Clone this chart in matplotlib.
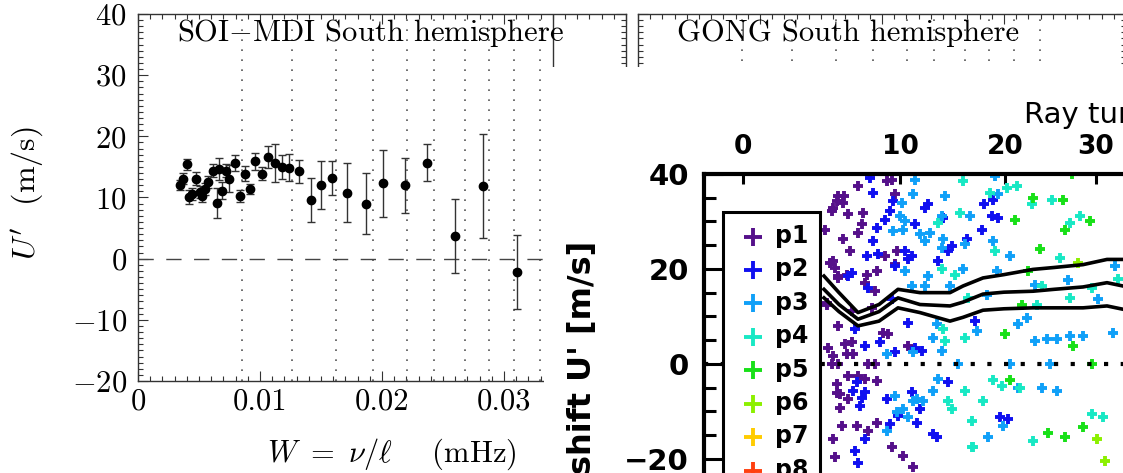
import numpy as np
import matplotlib
matplotlib.use('Agg')
import matplotlib.pyplot as plt
from matplotlib.patches import Rectangle
from matplotlib.ticker import MultipleLocator

plt.rcParams['font.family'] = ['cmr10', 'DejaVu Serif']
plt.rcParams['mathtext.fontset'] = 'cm'
plt.rcParams['axes.formatter.use_mathtext'] = True

# SOI-MDI south hemisphere: U' against W = nu/l
w_mdi = [0.00344, 0.00366, 0.00399, 0.00421, 0.00440, 0.00473, 0.00508, 0.00522, 0.00549, 0.00576,
         0.00612, 0.00645, 0.00667, 0.00686, 0.00721, 0.00749, 0.00795, 0.00836, 0.00877, 0.00918,
         0.00959, 0.01014, 0.01063, 0.01123, 0.01178, 0.01238, 0.01322, 0.01415, 0.01497, 0.01593,
         0.01716, 0.01866, 0.02011, 0.02188, 0.02366, 0.02598, 0.02831, 0.03109, 0.03400]
u_mdi = [12.0, 13.1, 15.4, 10.1, 10.6, 13.1, 10.9, 10.3, 11.4, 12.5,
         14.4, 9.1, 14.7, 11.1, 14.4, 13.1, 15.7, 10.2, 13.9, 11.4,
         15.9, 13.9, 16.7, 15.6, 15.0, 14.9, 14.3, 9.6, 12.0, 13.2,
         10.8, 9.0, 12.3, 12.0, 15.7, 3.7, 11.8, -2.2, 26.0]
e_mdi = [0.8, 0.9, 0.9, 1.1, 1.0, 1.0, 1.0, 1.0, 1.0, 1.0,
         1.0, 2.4, 1.8, 1.4, 1.1, 2.2, 1.3, 1.0, 1.2, 0.8,
         1.4, 1.1, 1.8, 3.1, 1.9, 2.2, 1.9, 3.6, 3.9, 2.8,
         4.8, 5.0, 5.5, 4.5, 3.0, 6.1, 8.5, 6.0, 17.0]

# W bin edges (dotted lines), same for both panels
w_bins = [0.00852, 0.01262, 0.01623, 0.01926, 0.02205, 0.02426, 0.02680, 0.02877, 0.03082, 0.03295]

# overlay: shift U' for each radial order
p1_x = [15.4, 19.1, 18.3, 18.8, 13.4, 13.9, 12.9, 14.4, 15.9, 12.1, 15.8, 15.4, 13.9, 14.6, 12.6, 13.1,
        13.4, 16.3, 18.1, 19.1, 17.3, 16.1, 17.1, 19.3, 12.3, 14.8, 16.8,
        13.4, 12.4, 12.9, 14.1, 14.8, 14.3, 14.9, 17.9, 18.4, 20.4, 12.8, 13.4, 16.4, 17.1, 14.4,
        15.4, 16.1, 17.3, 13.3, 13.6, 14.4, 13.8, 15.3, 16.4, 17.3, 12.9, 13.1, 18.8, 19.9, 20.9,
        12.3, 13.3, 13.6, 12.9, 13.4, 14.3, 12.8, 13.3, 14.0]
p1_y = [37.4, 35.7, 38.5, 38.8, 35.3, 33.9, 32.9, 31.6, 31.8, 28.3, 29.4, 27.6, 26.2, 23.8, 21.3, 20.2,
        18.5, 18.8, 22.7, 21.0, 19.5, 17.1, 15.3, 23.8, 12.5, 11.1, 11.8,
        8.0, 3.4, 1.7, 4.1, 4.5, 2.0, 2.0, 6.6, 6.2, 3.8, 0.0, 0.0, 0.0, 0.0, -2.5,
        -2.5, -3.2, -3.6, -4.3, -6.4, -7.4, -13.0, -13.0, -14.1, -12.4, -15.9, -19.7, -17.6, -19.4, -21.8,
        12.9, -6.1, -9.2, 21.6, 18.1, 18.8, 32.2, 34.3, 35.3]

p2_x = [16.6, 16.9, 18.9, 18.6, 18.1, 17.3, 16.9, 16.3, 17.4, 14.4, 14.8, 19.1, 20.4, 20.8, 20.1, 21.1,
        22.1, 22.4, 24.8, 24.4, 23.4, 26.3, 16.4, 18.8, 23.9,
        15.1, 16.1, 17.6, 19.1, 21.1, 21.8, 20.4, 15.3, 14.9, 15.8, 16.1, 15.6, 18.3, 20.8, 21.6,
        19.4, 21.3, 18.6, 16.1, 15.1, 15.4, 22.9, 23.3, 24.4,
        28.0, 28.9, 28.8, 29.4, 27.8, 27.1, 29.6, 30.4]
p2_y = [39.2, 36.0, 34.3, 32.2, 30.4, 28.7, 25.9, 22.7, 23.1, 18.5, 19.2, 20.6, 22.0, 22.7, 23.8, 29.4,
        32.9, 33.6, 24.8, 23.8, 21.7, 26.2, 16.0, 13.6, 30.8,
        7.3, 3.8, 4.5, 2.4, 3.4, 2.7, 8.7, -3.9, -5.7, -7.1, -6.0, -8.8, -7.4, -6.0, -9.5,
        -10.9, -12.4, -12.7, -15.9, -18.3, -20.8, -14.8, -15.5, -3.9,
        33.6, 34.6, 31.1, 30.8, 28.3, 9.0, -11.3, -11.7]

p3_x = [21.1, 24.1, 20.9, 19.8, 19.6, 18.9, 19.9, 20.1, 21.6, 22.6, 22.1, 23.8, 23.9, 23.8, 20.1, 22.4,
        22.1, 25.9, 26.1, 24.6, 20.8, 26.6,
        18.3, 19.1, 19.9, 19.3, 20.4, 20.9, 21.3, 21.9, 22.9, 23.4, 18.3, 20.9, 22.9, 23.8, 23.3, 25.4,
        29.1, 29.4, 28.9, 30.6, 29.3, 28.3, 32.3, 31.4, 27.3, 33.1, 34.3, 35.3, 36.6, 37.9, 40.9, 41.1,
        39.4, 33.8, 35.3, 31.4, 28.4, 29.9, 33.1, 36.4, 34.6, 30.6]
p3_y = [38.8, 35.3, 35.7, 33.9, 31.1, 28.0, 28.3, 30.1, 27.3, 27.6, 25.9, 31.1, 26.2, 24.5, 19.5, 18.5,
        16.4, 19.9, 25.2, 16.4, 16.4, 31.1,
        2.0, -6.7, -9.5, -10.2, -11.3, -7.8, -7.4, -7.8, -5.7, -3.2, -14.1, 2.4, 5.5, 2.7, 8.3, 0.0,
        39.6, 35.7, 25.9, 22.7, 19.5, 14.6, 9.7, 8.3, 6.9, 4.8, 5.2, 5.2, 5.9, 5.9, 6.6, 20.6,
        13.6, -5.0, -5.7, -5.0, -15.5, -13.1, 16.7, 17.7, 0.0, 0.0]

p4_x = [25.6, 23.4, 23.8, 25.1, 25.9, 26.4,
        23.9, 24.1, 26.1, 24.4, 24.8, 26.8, 26.8, 26.1,
        28.6, 29.1, 30.3, 31.3, 32.8, 34.8, 36.6, 37.6, 35.6, 33.3, 33.8, 36.6, 38.8, 41.4,
        28.9, 29.8, 31.6, 38.8, 39.9, 32.9, 26.9, 27.9]
p4_y = [31.8, 29.7, 19.9, 18.8, 38.5, 13.9,
        7.3, 4.8, -5.7, -7.8, -9.5, -12.0, -17.6, 5.5,
        36.0, 23.8, 37.1, 37.4, 33.6, 34.6, 29.7, 31.1, 22.3, 12.5, 16.4, 13.9, 16.0, 17.8,
        -3.3, -4.7, -5.0, -10.6, -11.3, -16.2, -17.6, -7.8]

p5_x = [31.1, 32.9, 35.9, 38.6, 36.1, 33.6, 32.4, 31.8, 30.1, 36.9, 38.8, 30.6, 34.4, 36.1, 37.9, 36.8]
p5_y = [30.4, 35.0, 34.6, 30.1, 28.3, 24.1, 19.5, 12.5, 6.2, 3.7, 0.0, -3.3, -14.5, -15.5, -13.4, 39.9]

p6_x = [37.4, 39.3, 40.1]
p6_y = [21.3, -15.9, -20.5]

p7_x, p7_y = [], []
p8_x, p8_y = [], []

# running means and error envelope
curve_x = [12.0, 13.5, 15.4, 17.5, 19.4, 21.6, 24.6, 25.9, 27.9, 30.0, 32.9, 35.0, 37.9, 40.3, 41.9]
curve_hi = [18.5, 15.0, 10.8, 12.5, 15.7, 15.0, 15.0, 16.4, 18.1, 18.8, 19.9, 20.3, 20.9, 22.0, 22.0]
curve_mid = [15.7, 12.5, 9.4, 11.0, 13.9, 12.5, 12.2, 13.0, 14.7, 15.1, 15.3, 15.7, 16.2, 17.1, 16.4]
curve_lo = [13.9, 11.0, 8.0, 9.0, 11.8, 10.8, 9.0, 9.8, 11.3, 11.6, 11.8, 11.8, 11.8, 12.2, 11.5]

top_pos = [3.9, 19.6, 30.1, 39.2]
top_lab = ['0', '10', '20', '30']

p_cols = ['#55108a', '#1010f0', '#10a0f8', '#18e8c4', '#18e018', '#8cf000', '#ffcc00', '#ff4010']

W, H = 1123, 473
fig = plt.figure(figsize=(W / 100, H / 100), dpi=100)


def panel(left_px, title, labels=True):
    ax = fig.add_axes([left_px / W, 1 - 381 / H, 488 / W, 367 / H])
    ax.set_xlim(0, 0.04)
    ax.set_ylim(-20, 40)
    for w in w_bins:
        ax.axvline(w, color='#555555', lw=1.2, ls=(0, (1, 5)))
    ax.axhline(0, color='#444444', lw=1, ls=(0, (11, 9)))
    ax.set_xticks([0, 0.01, 0.02, 0.03, 0.04])
    ax.set_yticks([-20, -10, 0, 10, 20, 30, 40])
    if labels:
        ax.set_xticklabels(['0', '0.01', '0.02', '0.03', ''], fontsize=22)
        ax.set_yticklabels(['$%d$' % v for v in [-20, -10, 0, 10, 20, 30, 40]], fontsize=22)
    else:
        ax.set_xticklabels([])
        ax.set_yticklabels([])
    ax.xaxis.set_minor_locator(MultipleLocator(0.001))
    ax.yaxis.set_minor_locator(MultipleLocator(1))
    ax.tick_params(which='both', direction='in', top=True, right=True, color='#333333', width=0.8)
    ax.tick_params(which='major', length=7)
    ax.tick_params(which='minor', length=3.5)
    ax.tick_params(axis='y', pad=8)
    ax.tick_params(axis='x', pad=5)
    for s in ax.spines.values():
        s.set_color('#333333')
        s.set_linewidth(1)
    ax.text(0.08, 0.948, title, transform=ax.transAxes, fontsize=22, va='center', ha='left')
    return ax


ax1 = panel(138, 'SOI$-$MDI South hemisphere')
ax1.errorbar(w_mdi, u_mdi, yerr=e_mdi, fmt='o', color='black', ms=6, ecolor='#333333',
             elinewidth=1, capsize=3, capthick=1)
ax1.text(-0.225, 0.512, r"$U'$  (m/s)", transform=ax1.transAxes, rotation=90,
         fontsize=23, ha='center', va='center')
ax1.text(0.52, -0.2, r"$W\ =\ \nu/\ell$    (mHz)", transform=ax1.transAxes,
         fontsize=22, ha='center', va='center')

ax2 = panel(638, 'GONG South hemisphere', labels=False)

# white cover of the pasted figure
fig.patches.append(Rectangle((544 / W, 0), 1 - 544 / W, 1 - 67 / H, transform=fig.transFigure,
                             facecolor='white', edgecolor='none', zorder=5))

sans = dict(family='DejaVu Sans', weight='bold')
ax3 = fig.add_axes([704 / W, 0, 1 - 704 / W, 1 - 174 / H])
ax3.set_zorder(6)
ax3.set_xlim(0, 41.9)
ax3.set_ylim(-23, 40)
for xs, ys, c, lab in zip([p1_x, p2_x, p3_x, p4_x, p5_x, p6_x, p7_x, p8_x],
                          [p1_y, p2_y, p3_y, p4_y, p5_y, p6_y, p7_y, p8_y],
                          p_cols, ['p1', 'p2', 'p3', 'p4', 'p5', 'p6', 'p7', 'p8']):
    ax3.scatter(xs, ys, marker='+', s=60, linewidths=2.8, color=c, label=lab, zorder=2)
ax3.axhline(0, color='black', lw=3, ls=(0, (1, 3)), zorder=3)
for cy in [curve_hi, curve_mid, curve_lo]:
    ax3.plot(curve_x, cy, color='black', lw=2.6, zorder=4)
ax3.spines['right'].set_visible(False)
ax3.spines['bottom'].set_visible(False)
for s in ['top', 'left']:
    ax3.spines[s].set_linewidth(3)
ax3.xaxis.tick_top()
ax3.set_xticks(top_pos)
ax3.set_xticklabels(top_lab, fontsize=19, **sans)
ax3.set_yticks([-20, 0, 20, 40])
ax3.set_yticklabels(['\u221220', '0', '20', '40'], fontsize=21, **sans)
ax3.yaxis.set_minor_locator(MultipleLocator(5))
ax3.tick_params(axis='x', direction='in', length=7, width=2.2, pad=10)
ax3.tick_params(axis='y', which='major', direction='in', length=14, width=2.2, pad=11)
ax3.tick_params(axis='y', which='minor', direction='in', length=8.5, width=2.2)
leg = ax3.legend(loc='upper left', bbox_to_anchor=(19 / 419, 1 - 38 / 299), borderaxespad=0,
                 prop=dict(family='DejaVu Sans', weight='bold', size=17), markerscale=1.6,
                 scatterpoints=1, handlelength=1.5, handletextpad=0.2, borderpad=0.5,
                 labelspacing=0.4, fancybox=False, framealpha=1)
leg.get_frame().set_edgecolor('black')
leg.get_frame().set_linewidth(2.2)
leg.set_zorder(10)

fig.text(582 / W, 1 - 241 / H, "shift U' [m/s]", rotation=90, ha='center', va='top',
         fontsize=23, zorder=7, **sans)
fig.text(1024 / W, 1 - 115 / H, 'Ray turning depth', ha='left', va='center',
         fontsize=21, zorder=7, family='DejaVu Sans')

fig.savefig('out.png', dpi=100)
